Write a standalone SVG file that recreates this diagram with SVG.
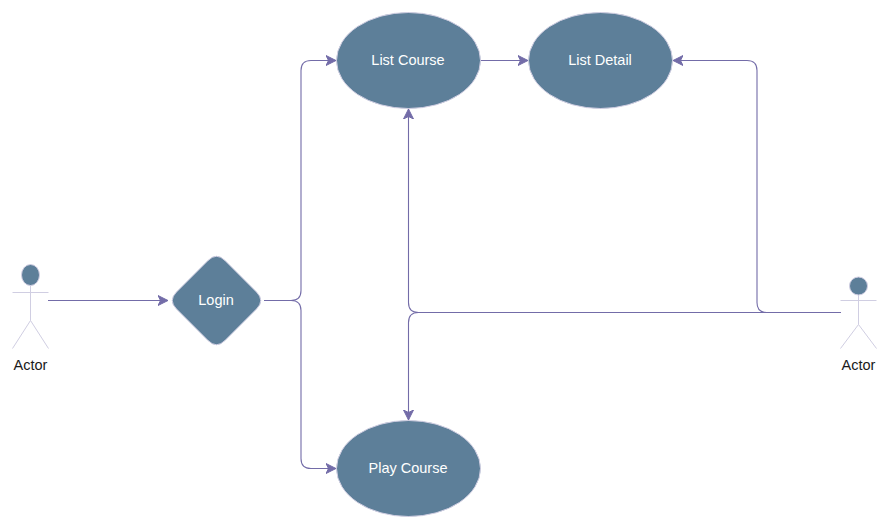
<svg xmlns="http://www.w3.org/2000/svg" width="890" height="531" viewBox="0 0 890 531">
<style>
text{font-family:"Liberation Sans",Arial,sans-serif;font-size:14.500px;text-anchor:middle}
.w{fill:#fff}.k{fill:#1a1a1a}
.n{fill:#5d7f99;stroke:#d0cee2;stroke-width:1}
.a{fill:none;stroke:#d0cee2;stroke-width:1}
.c{fill:none;stroke:#736ca8;stroke-width:1.100}
</style>
<defs>
<marker id="arr" markerUnits="userSpaceOnUse" markerWidth="12" markerHeight="12" refX="10" refY="5" orient="auto" viewBox="0 0 12 10"><path d="M0 0L10 5L0 10L2.500 5Z" fill="#736ca8" stroke="#736ca8"/></marker>
</defs>
<rect width="890" height="531" fill="#fff"/>
<g id="connectors">
<path class="c" marker-end="url(#arr)" d="M48 300.500H168"/>
<path class="c" marker-end="url(#arr)" d="M264 300.500H291Q301 300.500 301 290.500V70.500Q301 60.500 311 60.500H336"/>
<path class="c" marker-end="url(#arr)" d="M264 300.500H291Q301 300.500 301 310.500V458.500Q301 468.500 311 468.500H336"/>
<path class="c" marker-end="url(#arr)" d="M481 60.500H528"/>
<path class="c" marker-end="url(#arr)" d="M841 312.500H767Q757 312.500 757 302.500V70.500Q757 60.500 747 60.500H673"/>
<path class="c" marker-end="url(#arr)" d="M841 312.500H418.500Q408.500 312.500 408.500 302.500V109"/>
<path class="c" marker-end="url(#arr)" d="M841 312.500H418.500Q408.500 312.500 408.500 322.500V420"/>
</g>
<g id="actor1">
<ellipse class="n" cx="30.500" cy="275" rx="9" ry="10.500"/>
<path class="a" d="M30.500 285.500V320.500M12.500 292.500H48.500M12.500 348.500L30.500 320.500L48.500 348.500"/>
<text class="k" x="30.500" y="370">Actor</text>
</g>
<g id="login">
<path class="n" d="M208 260.500Q216.500 252 225 260.500L256.500 292Q265 300.500 256.500 309L225 340.500Q216.500 349 208 340.500L176.500 309Q168 300.500 176.500 292Z"/>
<text class="w" x="216" y="305">Login</text>
</g>
<g id="list-course">
<ellipse class="n" cx="408.500" cy="60.500" rx="72" ry="48"/>
<text class="w" x="408" y="65">List Course</text>
</g>
<g id="list-detail">
<ellipse class="n" cx="600.500" cy="60.500" rx="72" ry="48"/>
<text class="w" x="600" y="65">List Detail</text>
</g>
<g id="play-course">
<ellipse class="n" cx="408.500" cy="468.500" rx="72" ry="48"/>
<text class="w" x="408" y="473">Play Course</text>
</g>
<g id="actor2">
<ellipse class="n" cx="858.500" cy="286" rx="9" ry="9"/>
<path class="a" d="M858.500 295V324.500M840.500 300.500H876.500M840.500 348.500L858.500 324.500L876.500 348.500"/>
<text class="k" x="858.500" y="370">Actor</text>
</g>
</svg>
